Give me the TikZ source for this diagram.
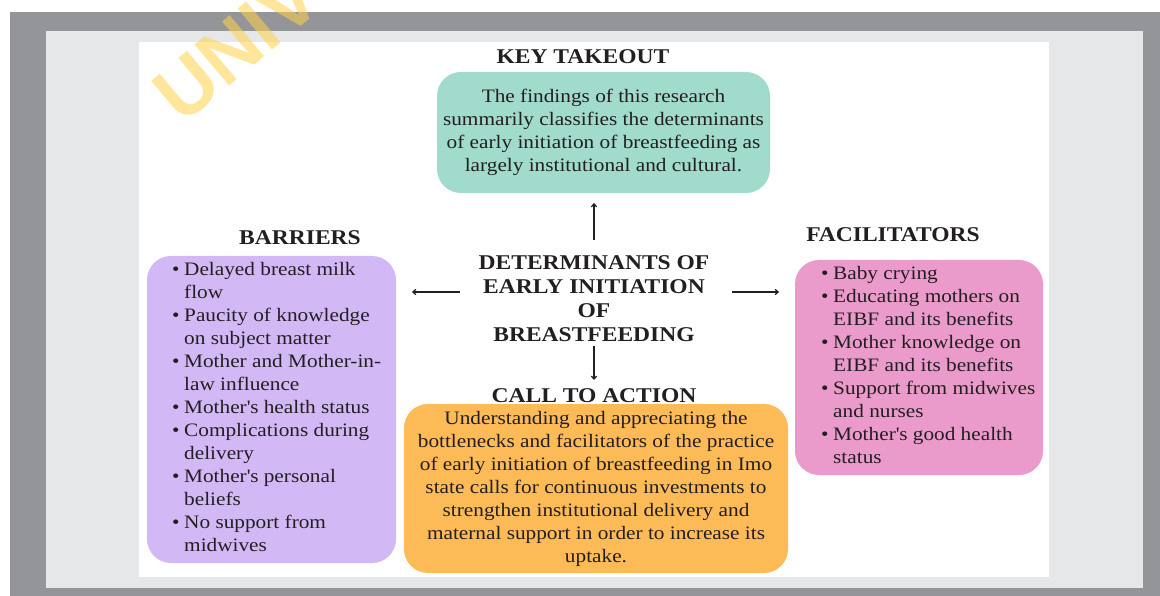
\documentclass[tikz,border=0pt]{standalone}
\usepackage{fontspec}
\setmainfont{Liberation Serif}[FakeStretch=1.12]
\newfontfamily\wmfont{Liberation Sans}
\usetikzlibrary{arrows.meta}
\definecolor{frameg}{HTML}{939598}
\definecolor{panelg}{HTML}{E6E7E8}
\definecolor{takeg}{HTML}{A1DBCC}
\definecolor{barrp}{HTML}{D2B9F6}
\definecolor{facp}{HTML}{EA9BCB}
\definecolor{callo}{HTML}{FDBB58}
\definecolor{ink}{HTML}{231F20}
\definecolor{wmy}{HTML}{FFD24A}
\newcommand{\bul}{\makebox[12pt][l]{\textbullet}}
\newcommand{\ind}{\hspace*{12pt}}
\newcommand{\ap}{\textquotesingle}
\begin{document}
\begin{tikzpicture}[x=1pt,y=-1pt,
    box/.style={rounded corners=24pt,inner sep=0pt,text=ink,align=center,
      font=\fontsize{19}{23}\selectfont},
    head/.style={inner sep=0pt,text=ink,align=center,
      font=\fontsize{21}{24}\selectfont\bfseries},
    lst/.style={inner sep=0pt,text=ink,align=left,anchor=west,
      font=\fontsize{19}{23}\selectfont},
    arr/.style={-{To[length=4pt,width=6pt]},line width=1.2pt,draw=ink}]
  \useasboundingbox (0,0) rectangle (1160,596);
  \fill[frameg] (10,12) rectangle (1160,596);
  \fill[panelg] (46,31) rectangle (1143,588);
  \fill[white] (139,42) rectangle (1049,577);

  \node[head] (takeH) at (583,57) {KEY TAKEOUT};
  \node[box,fill=takeg,minimum width=333pt,minimum height=121pt] (take) at (603.5,132.5)
    {The findings of this research\\ summarily classifies the determinants\\
     of early initiation of breastfeeding as\\ largely institutional and cultural.};

  \node[head] (det) at (594,298.5) {DETERMINANTS OF\\ EARLY INITIATION\\ OF\\ BREASTFEEDING};

  \node[head] (barrH) at (300,238) {BARRIERS};
  \node[box,fill=barrp,minimum width=249pt,minimum height=307pt] (barr) at (271.5,409.5) {};
  \node[lst] (barrL) at (172,407)
    {\bul Delayed breast milk\\ \ind flow\\ \bul Paucity of knowledge\\ \ind on subject matter\\
     \bul Mother and Mother-in-\\ \ind law influence\\ \bul Mother\ap s health status\\
     \bul Complications during\\ \ind delivery\\ \bul Mother\ap s personal\\ \ind beliefs\\
     \bul No support from\\ \ind midwives};

  \node[head] (facH) at (893,235) {FACILITATORS};
  \node[box,fill=facp,minimum width=248pt,minimum height=215pt] (fac) at (919,367.5) {};
  \node[lst] (facL) at (821,365)
    {\bul Baby crying\\ \bul Educating mothers on\\ \ind EIBF and its benefits\\
     \bul Mother knowledge on\\ \ind EIBF and its benefits\\ \bul Support from midwives\\
     \ind and nurses\\ \bul Mother\ap s good health\\ \ind status};

  \node[head] (callH) at (594,396) {CALL TO ACTION};
  \node[box,fill=callo,minimum width=384pt,minimum height=169pt] (call) at (596,488.5)
    {Understanding and appreciating the\\ bottlenecks and facilitators of the practice\\
     of early initiation of breastfeeding in Imo\\ state calls for continuous investments to\\
     strengthen institutional delivery and\\ maternal support in order to increase its\\ uptake.};

  \draw[arr,shorten <=15pt,shorten >=10pt] (det.north) -- (det.north |- take.south);
  \draw[arr,shorten <=4pt,shorten >=9pt] (det.south) -- (det.south |- callH.north);
  \draw[arr,shorten <=18pt,shorten >=16pt] ([yshift=6.5pt]det.west) -- ([yshift=6.5pt]det.west -| barr.east);
  \draw[arr,shorten <=22pt,shorten >=16pt] ([yshift=6.5pt]det.east) -- ([yshift=6.5pt]det.east -| fac.west);

  \node[rotate=40,anchor=base west,inner sep=0pt,text=wmy,opacity=.55,
    font=\wmfont\fontsize{78}{78}\selectfont\bfseries] (wmark) at (182,126) {UNIV};
\end{tikzpicture}
\end{document}
